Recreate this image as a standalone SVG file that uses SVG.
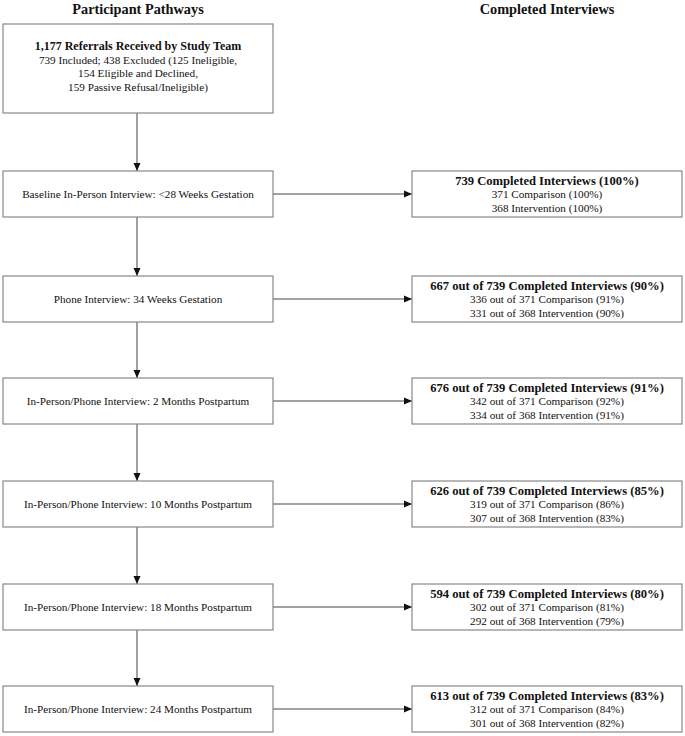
<svg xmlns="http://www.w3.org/2000/svg" width="685" height="736" viewBox="0 0 685 736">
<style>
text{font-family:"Liberation Serif","Times New Roman",serif;font-size:11.2px;fill:#111;text-anchor:middle}
.b{font-weight:bold;font-size:12px}
.b2{font-weight:bold;font-size:12.6px}
.h{font-weight:bold;font-size:14.3px}
.box{fill:#fff;stroke:#888;stroke-width:1.2}
.c{stroke:#444;stroke-width:1;fill:none;marker-end:url(#ah)}
</style>
<defs>
<marker id="ah" viewBox="0 0 8 8" refX="8" refY="4" markerWidth="8" markerHeight="8" markerUnits="userSpaceOnUse" orient="auto">
<path d="M0,0.5L8,4L0,7.5z" fill="#111"/>
</marker>
</defs>
<rect width="685" height="736" fill="#fff"/>
<text class="h" x="138" y="14">Participant Pathways</text>
<text class="h" x="547" y="14">Completed Interviews</text>
<g id="connectors">
<line class="c" x1="137" y1="113" x2="137" y2="171"/>
<line class="c" x1="137" y1="217" x2="137" y2="276"/>
<line class="c" x1="137" y1="322" x2="137" y2="378"/>
<line class="c" x1="137" y1="424" x2="137" y2="481"/>
<line class="c" x1="137" y1="527" x2="137" y2="584"/>
<line class="c" x1="137" y1="630" x2="137" y2="686"/>
<line class="c" x1="273" y1="194" x2="412" y2="194"/>
<line class="c" x1="273" y1="299" x2="412" y2="299"/>
<line class="c" x1="273" y1="401" x2="412" y2="401"/>
<line class="c" x1="273" y1="504" x2="412" y2="504"/>
<line class="c" x1="273" y1="607" x2="412" y2="607"/>
<line class="c" x1="273" y1="709" x2="412" y2="709"/>
</g>
<g id="referrals">
<rect class="box" x="3" y="24" width="270" height="89"/>
<text class="b" x="138" y="50">1,177 Referrals Received by Study Team</text>
<text x="138" y="63.5">739 Included; 438 Excluded (125 Ineligible,</text>
<text x="138" y="77">154 Eligible and Declined,</text>
<text x="138" y="90.5">159 Passive Refusal/Ineligible)</text>
</g>
<g id="baseline">
<rect class="box" x="3" y="171" width="270" height="46"/>
<text x="138" y="198">Baseline In-Person Interview: &lt;28 Weeks Gestation</text>
</g>
<g id="phone34">
<rect class="box" x="3" y="276" width="270" height="46"/>
<text x="138" y="303">Phone Interview: 34 Weeks Gestation</text>
</g>
<g id="pp2">
<rect class="box" x="3" y="378" width="270" height="46"/>
<text x="138" y="405">In-Person/Phone Interview: 2 Months Postpartum</text>
</g>
<g id="pp10">
<rect class="box" x="3" y="481" width="270" height="46"/>
<text x="138" y="508">In-Person/Phone Interview: 10 Months Postpartum</text>
</g>
<g id="pp18">
<rect class="box" x="3" y="584" width="270" height="46"/>
<text x="138" y="611">In-Person/Phone Interview: 18 Months Postpartum</text>
</g>
<g id="pp24">
<rect class="box" x="3" y="686" width="270" height="46"/>
<text x="138" y="713">In-Person/Phone Interview: 24 Months Postpartum</text>
</g>
<g id="ci1">
<rect class="box" x="412" y="171" width="270" height="46"/>
<text class="b2" x="547" y="184.5">739 Completed Interviews (100%)</text>
<text x="547" y="198">371 Comparison (100%)</text>
<text x="547" y="211.5">368 Intervention (100%)</text>
</g>
<g id="ci2">
<rect class="box" x="412" y="276" width="270" height="46"/>
<text class="b2" x="547" y="289.5">667 out of 739 Completed Interviews (90%)</text>
<text x="547" y="303">336 out of 371 Comparison (91%)</text>
<text x="547" y="316.5">331 out of 368 Intervention (90%)</text>
</g>
<g id="ci3">
<rect class="box" x="412" y="378" width="270" height="46"/>
<text class="b2" x="547" y="391.5">676 out of 739 Completed Interviews (91%)</text>
<text x="547" y="405">342 out of 371 Comparison (92%)</text>
<text x="547" y="418.5">334 out of 368 Intervention (91%)</text>
</g>
<g id="ci4">
<rect class="box" x="412" y="481" width="270" height="46"/>
<text class="b2" x="547" y="494.5">626 out of 739 Completed Interviews (85%)</text>
<text x="547" y="508">319 out of 371 Comparison (86%)</text>
<text x="547" y="521.5">307 out of 368 Intervention (83%)</text>
</g>
<g id="ci5">
<rect class="box" x="412" y="584" width="270" height="46"/>
<text class="b2" x="547" y="597.5">594 out of 739 Completed Interviews (80%)</text>
<text x="547" y="611">302 out of 371 Comparison (81%)</text>
<text x="547" y="624.5">292 out of 368 Intervention (79%)</text>
</g>
<g id="ci6">
<rect class="box" x="412" y="686" width="270" height="46"/>
<text class="b2" x="547" y="699.5">613 out of 739 Completed Interviews (83%)</text>
<text x="547" y="713">312 out of 371 Comparison (84%)</text>
<text x="547" y="726.5">301 out of 368 Intervention (82%)</text>
</g>
</svg>
